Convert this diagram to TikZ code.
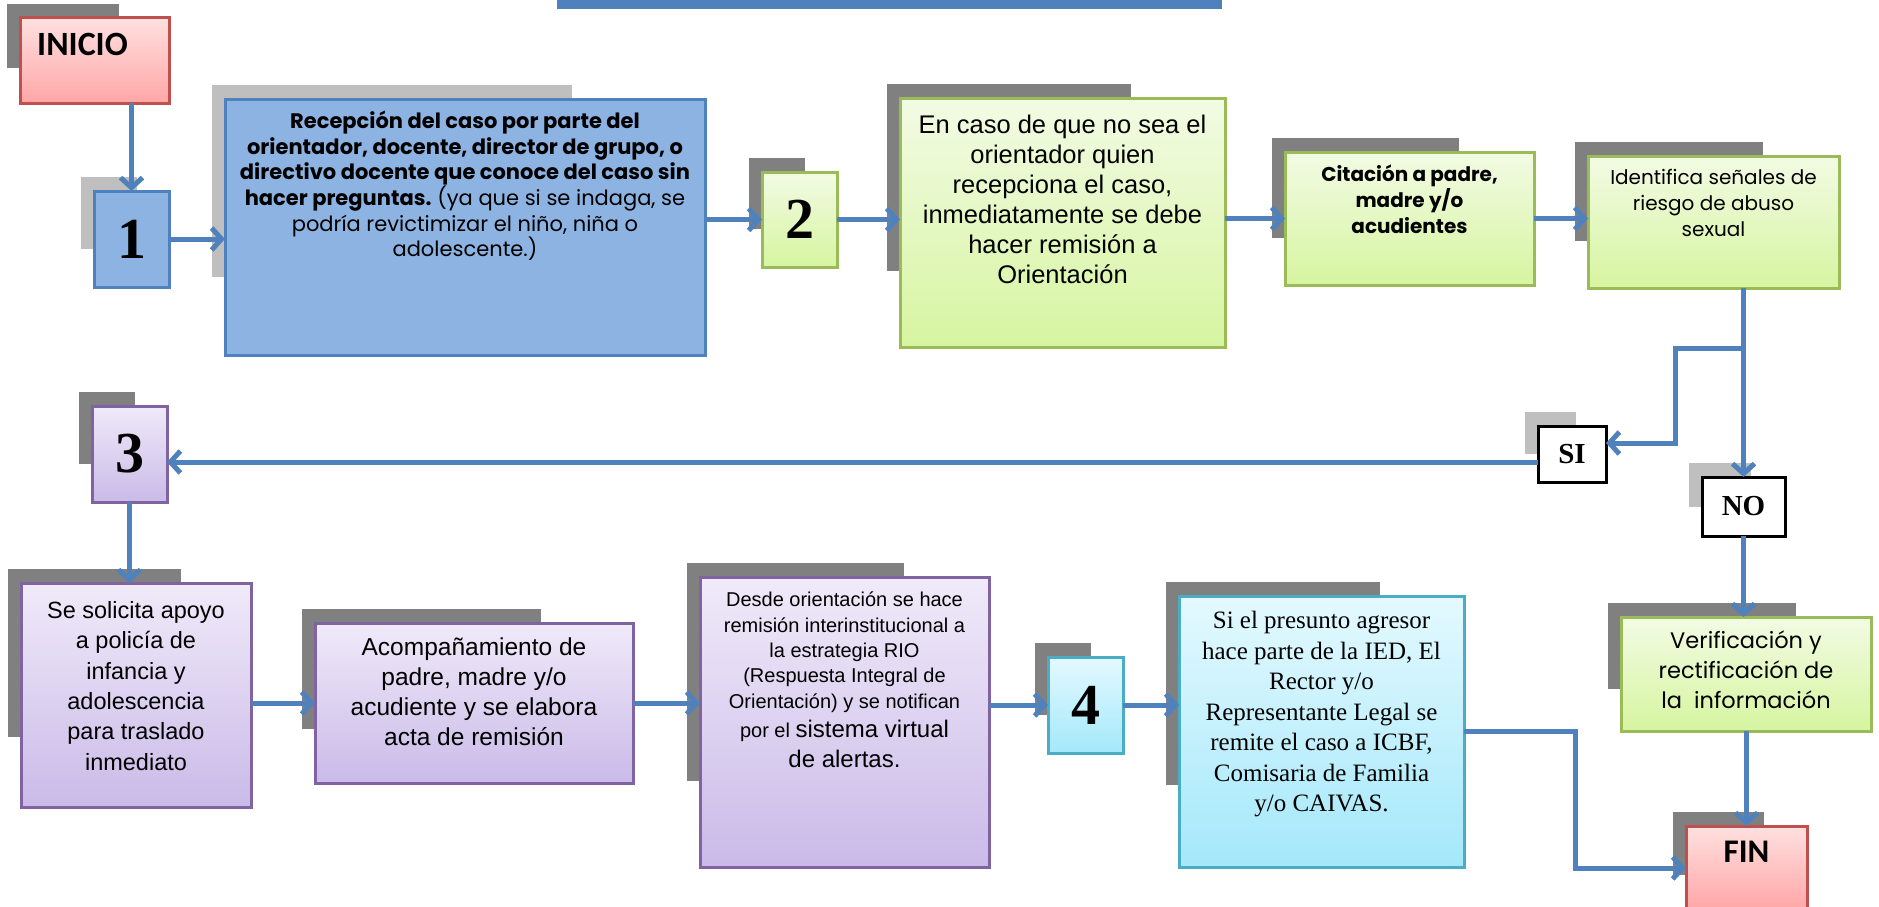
\documentclass[tikz,border=0pt]{standalone}
\usepackage{fontspec}
\setmainfont{Liberation Serif}
\newfontfamily\gothic{Poppins}
\newfontfamily\arialish{Liberation Sans}
\newfontfamily\calib{Carlito}
\usetikzlibrary{calc, positioning, arrows.meta, backgrounds}
\definecolor{linkblue}{RGB}{79,129,189}
\definecolor{boxblue}{RGB}{141,179,226}
\definecolor{leafgreen}{RGB}{155,187,89}
\definecolor{greentop}{RGB}{242,251,228}
\definecolor{greenbot}{RGB}{214,245,160}
\definecolor{lilac}{RGB}{128,100,162}
\definecolor{lilactop}{RGB}{240,234,249}
\definecolor{lilacbot}{RGB}{202,186,232}
\definecolor{aqua}{RGB}{75,172,198}
\definecolor{aquatop}{RGB}{228,249,255}
\definecolor{aquabot}{RGB}{164,232,250}
\definecolor{rosered}{RGB}{192,80,77}
\definecolor{rosetop}{RGB}{255,224,224}
\definecolor{rosebot}{RGB}{255,166,166}
\definecolor{darkshade}{RGB}{128,128,128}
\definecolor{lightshade}{RGB}{191,191,191}

\begin{document}
\begin{tikzpicture}[
    x=1pt, y=-1pt,
    panel/.style={draw, rectangle, line width=3pt, anchor=north west, inner sep=0pt, outer sep=0pt},
    wh/.style 2 args={minimum width=#1pt, minimum height=#2pt},
    bluebox/.style={panel, draw=linkblue, fill=boxblue},
    greenbox/.style={panel, draw=leafgreen, top color=greentop, bottom color=greenbot},
    lilacbox/.style={panel, draw=lilac, top color=lilactop, bottom color=lilacbot},
    aquabox/.style={panel, draw=aqua, top color=aquatop, bottom color=aquabot},
    redbox/.style={panel, draw=rosered, top color=rosetop, bottom color=rosebot},
    answer/.style={panel, draw=black, fill=white, font=\bfseries\fontsize{29}{30}\selectfont},
    numeral/.style={font=\bfseries\fontsize{58}{60}\selectfont},
    txt/.style={inner sep=0pt, align=center},
    arrow/.style={-{Straight Barb[length=10pt, width=22pt]}, line width=5pt, draw=linkblue}
]
\useasboundingbox (0,0) rectangle (1879,907);
\fill[linkblue] (557,0) rectangle (1222,9);

\node[redbox, wh={149}{85}] (inicio) at (20,18) {};
\node[bluebox, numeral, wh={75}{96}] (uno) at (94,191) {1};
\node[bluebox, wh={480}{256}] (recep) at (225,99) {};
\node[greenbox, numeral, wh={75}{95}] (dos) at (762,172) {2};
\node[greenbox, wh={325}{249}] (caso) at (900,98) {};
\node[greenbox, wh={249}{133}] (cita) at (1285,152) {};
\node[greenbox, wh={251}{132}] (ident) at (1588,156) {};
\node[answer, wh={68}{56}] (si) at (1538,426) {SI};
\node[answer, wh={83}{59}] (no) at (1702,477) {NO};
\node[greenbox, wh={250}{114}] (verif) at (1621,617) {};
\node[redbox, wh={121}{84}] (fin) at (1686,826) {};
\node[lilacbox, numeral, wh={75}{96}] (tres) at (92,406) {3};
\node[lilacbox, wh={230}{224}] (sol) at (21,583) {};
\node[lilacbox, wh={318}{160}] (acomp) at (315,623) {};
\node[lilacbox, wh={289}{290}] (desde) at (700,577) {};
\node[aquabox, numeral, wh={75}{96}] (cuatro) at (1048,657) {4};
\node[aquabox, wh={285}{271}] (sie) at (1179,596) {};

\begin{scope}[on background layer]
\foreach \n in {inicio, dos, caso, cita, ident, verif, fin, tres, sol, acomp, desde, cuatro, sie}
    \fill[darkshade] ($(\n.north west)+(-13,-14)$) rectangle ($(\n.north west)!0.75!(\n.south east)+(-13,-14)$);
\foreach \n in {uno, recep, si, no}
    \fill[lightshade] ($(\n.north west)+(-13,-14)$) rectangle ($(\n.north west)!0.75!(\n.south east)+(-13,-14)$);
\end{scope}

\node[txt, font=\calib\bfseries\fontsize{34}{36}\selectfont, below right=15pt and 17pt of inicio.north west] (inicio-t) {INICIO};
\node[txt, font=\gothic\bfseries\fontsize{21}{25.6}\selectfont, below=12pt of recep.north] (recep-t)
    {Recepción del caso por parte del\\
     orientador, docente, director de grupo, o\\
     directivo docente que conoce del caso sin\\
     hacer preguntas. {\mdseries (ya que si se indaga, se}\\
     {\mdseries podría revictimizar el niño, niña o}\\
     {\mdseries adolescente.)}};
\node[txt, font=\arialish\fontsize{25.5}{30}\selectfont, below=17pt of caso.north] (caso-t)
    {En caso de que no sea el\\ orientador quien\\ recepciona el caso,\\ inmediatamente se debe\\ hacer remisión a\\ Orientación};
\node[txt, font=\gothic\bfseries\fontsize{20}{26}\selectfont, below=13pt of cita.north] (cita-t)
    {Citación a padre,\\ madre y/o\\ acudientes};
\node[txt, font=\gothic\fontsize{20}{26}\selectfont, below=13pt of ident.north] (ident-t)
    {Identifica señales de\\ riesgo de abuso\\ sexual};
\node[txt, font=\gothic\fontsize{22.5}{30}\selectfont, below=14pt of verif.north] (verif-t)
    {Verificación y\\ rectificación de\\ la\ \ información};
\node[txt, font=\calib\bfseries\fontsize{33}{36}\selectfont, below=15pt of fin.north] (fin-t) {FIN};
\node[txt, font=\arialish\fontsize{23.5}{30.4}\selectfont, below=18pt of sol.north] (sol-t)
    {Se solicita apoyo\\ a policía de\\ infancia y\\ adolescencia\\ para traslado\\ inmediato};
\node[txt, font=\arialish\fontsize{24.5}{30}\selectfont, below=15pt of acomp.north] (acomp-t)
    {Acompañamiento de\\ padre, madre y/o\\ acudiente y se elabora\\ acta de remisión};
\node[txt, font=\arialish\fontsize{20}{25.3}\selectfont, below=15pt of desde.north] (desde-t)
    {Desde orientación se hace\\ remisión interinstitucional a\\ la estrategia RIO\\ (Respuesta Integral de\\ Orientación) y se notifican\\[4pt]
     por el {\fontsize{24}{29}\selectfont sistema virtual}\\[5pt] {\fontsize{24}{29}\selectfont de alertas.}};
\node[txt, font=\fontsize{25}{30.5}\selectfont, below=15pt of sie.north] (sie-t)
    {Si el presunto agresor\\ hace parte de la IED, El\\ Rector y/o\\ Representante Legal se\\ remite el caso a ICBF,\\ Comisaria de Familia\\ y/o CAIVAS.};

\coordinate (split) at ($(ident.south -| no)+(0,60)$);

\draw[arrow] (uno |- inicio.south) -- (uno.north);
\draw[arrow] (uno.east) -- (uno.east -| recep.west);
\draw[arrow] (dos -| recep.east) -- (dos.west);
\draw[arrow] (dos.east) -- (dos.east -| caso.west);
\draw[arrow] (cita -| caso.east) -- (cita.west);
\draw[arrow] (cita.east) -- (cita.east -| ident.west);
\draw[arrow] (ident.south -| no) -- (no.north);
\draw[arrow] (split) -- ++(-68,0) |- ($(si.east)+(0,-11)$);
\draw[arrow] ($(si.west)+(0,8)$) -- ($(tres.east)+(0,8)$);
\draw[arrow] (tres.south) -- (sol.north -| tres);
\draw[arrow] (acomp -| sol.east) -- (acomp.west);
\draw[arrow] (acomp.east) -- (acomp.east -| desde.west);
\draw[arrow] (cuatro -| desde.east) -- (cuatro.west);
\draw[arrow] (cuatro.east) -- (cuatro.east -| sie.west);
\draw[arrow] (sie.east) -- ++(111,0) |- (fin.west);
\draw[arrow] (no.south) -- (no.south |- verif.north);
\draw[arrow] (fin |- verif.south) -- (fin.north);
\end{tikzpicture}
\end{document}
